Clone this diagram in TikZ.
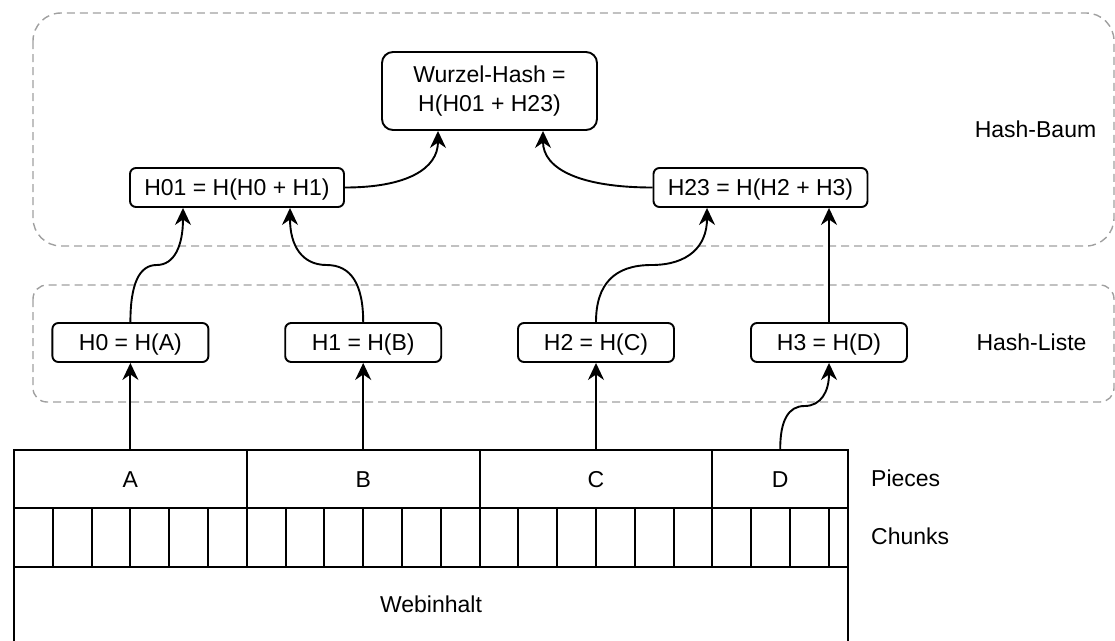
\documentclass[tikz,border=0pt]{standalone}
\usepackage{fontspec}
\setmainfont{Liberation Sans}
\usetikzlibrary{arrows.meta,calc}
\definecolor{groupgray}{RGB}{160,160,160}

\tikzset{
  base/.style={font=\fontsize{23}{29}\selectfont, inner sep=0pt},
  hashbox/.style={base, draw, line width=1.9pt, rounded corners=6pt,
    minimum height=39pt, text height=16.5pt, text depth=0pt},
  rootbox/.style={base, draw, line width=1.9pt, rounded corners=11pt,
    minimum width=215pt, minimum height=78pt, align=center},
  piece/.style={base, draw, line width=1.9pt, minimum height=58pt,
    text height=16.5pt, text depth=0pt},
  label/.style={base, text height=16.5pt, text depth=0pt},
  group/.style={draw=groupgray, line width=1.4pt, dash pattern=on 8pt off 5pt},
  gridline/.style={line width=1.9pt},
  conn/.style={line width=1.9pt, -{Stealth[length=17pt,width=16pt,inset=5.5pt]}},
  % S-shaped bend: vertical, horizontal at half height, vertical
  sbend/.style={to path={let \p1=(\tikztostart), \p2=(\tikztotarget),
      \p3=($(\p1)!0.5!(\p2)$) in
      .. controls ($(\p1)!1/3!(\x1,\y2)$) and ($(\x1,\y3)!1/3!(\x3,\y3)$) .. (\p3)
      .. controls ($(\x2,\y3)!1/3!(\x3,\y3)$) and ($(\p2)!1/3!(\x2,\y1)$) .. (\p2)
      \tikztonodes}},
  % quarter bend: leaves horizontally, arrives vertically
  lbend/.style={to path={let \p1=(\tikztostart), \p2=(\tikztotarget) in
      .. controls ($(\p1)!2/3!(\x2,\y1)$) and ($(\p2)!2/3!(\x2,\y1)$) .. (\p2)
      \tikztonodes}}
}

\begin{document}
\begin{tikzpicture}[x=1pt, y=-1pt]
  \useasboundingbox (0,0) rectangle (1115,640);

  % dashed groups
  \draw[group, rounded corners=28pt] (33,13) rectangle (1114,246);
  \draw[group, rounded corners=14pt] (33,285) rectangle (1114,402);

  % hash tree
  \node[rootbox] (root) at (489.5,91) {Wurzel-Hash =\\H(H01 + H23)};
  \node[hashbox, minimum width=214pt] (h01) at (237,187.5) {H01 = H(H0 + H1)};
  \node[hashbox, minimum width=214pt] (h23) at (760.5,187.5) {H23 = H(H2 + H3)};

  % hash list
  \node[hashbox, minimum width=156pt] (h0) at (130.4,342.5) {H0 = H(A)};
  \node[hashbox, minimum width=156pt] (h1) at (363.2,342.5) {H1 = H(B)};
  \node[hashbox, minimum width=156pt] (h2) at (596,342.5) {H2 = H(C)};
  \node[hashbox, minimum width=156pt] (h3) at (829,342.5) {H3 = H(D)};

  % pieces
  \node[piece, minimum width=232.8pt] (pa) at (130.4,479) {A};
  \node[piece, minimum width=232.8pt] (pb) at (363.2,479) {B};
  \node[piece, minimum width=232.8pt] (pc) at (596,479) {C};
  \node[piece, minimum width=135.6pt] (pd) at (780.2,479) {D};

  % chunks
  \draw[gridline] (14,508) rectangle (848,567);
  \foreach \k in {1,...,21}
    \draw[gridline] ({14+38.8*\k},508) -- ({14+38.8*\k},567);

  % web content (runs past the lower edge of the page)
  \node[piece, minimum width=834pt, minimum height=80pt, text depth=6pt]
    (web) at (431,607) {Webinhalt};

  % side labels
  \node[label] (lbaum) at (1035.5,129.5) {Hash-Baum};
  \node[label] (lliste) at (1031.5,342) {Hash-Liste};
  \node[label, anchor=west] (lpieces) at (871,478) {Pieces};
  \node[label, anchor=west] (lchunks) at (871,536) {Chunks};

  % arrow end points on the upper boxes
  \coordinate (in01a) at ($(h01.south)+(-54,0)$);
  \coordinate (in01b) at ($(h01.south)+(53,0)$);
  \coordinate (in23a) at ($(h23.south)+(-53.5,0)$);
  \coordinate (in23b) at (h3.north |- h23.south);
  \coordinate (inra) at ($(root.south)+(-51.5,0)$);
  \coordinate (inrb) at ($(root.south)+(53.5,0)$);

  % pieces to hash list
  \draw[conn] (pa.north) -- (h0.south);
  \draw[conn] (pb.north) -- (h1.south);
  \draw[conn] (pc.north) -- (h2.south);
  \draw[conn] (pd.north) to[sbend] (h3.south);

  % hash list to tree
  \draw[conn] (h0.north) to[sbend] (in01a);
  \draw[conn] (h1.north) to[sbend] (in01b);
  \draw[conn] (h2.north) to[sbend] (in23a);
  \draw[conn] (h3.north) -- (in23b);

  % tree to root
  \draw[conn] (h01.east) to[lbend] (inra);
  \draw[conn] (h23.west) to[lbend] (inrb);
\end{tikzpicture}
\end{document}
